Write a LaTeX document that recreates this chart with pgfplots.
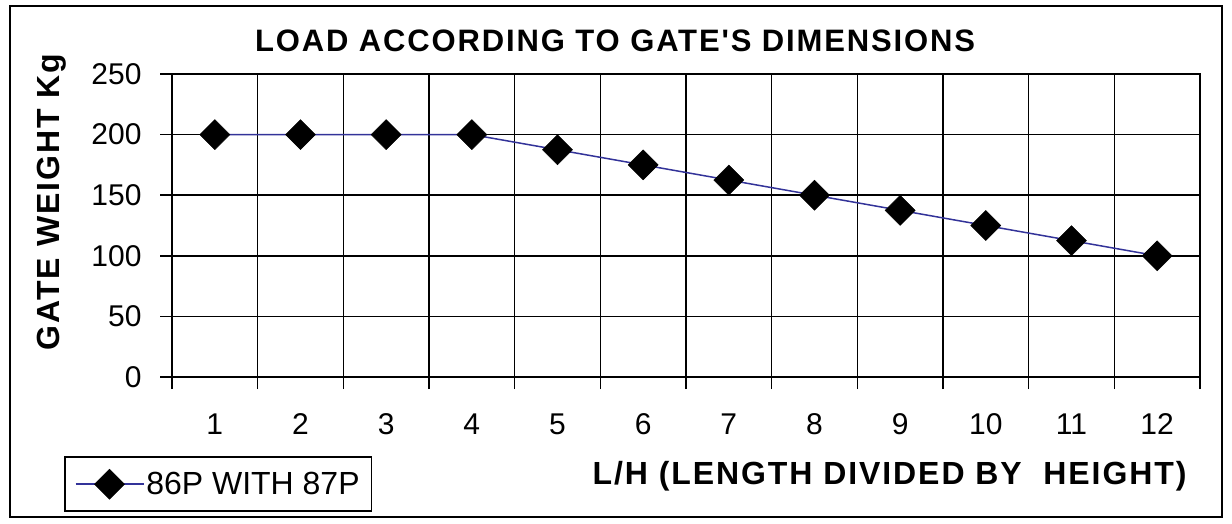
\documentclass[border=0pt]{standalone}
\usepackage{fontspec}
\setmainfont{Liberation Sans}
\newfontfamily\lsfont[LetterSpace=6]{Liberation Sans}
\usepackage{pgfplots}
\pgfplotsset{compat=1.18}
\definecolor{navyline}{HTML}{333399}
\begin{document}
\begin{tikzpicture}
\useasboundingbox (0pt,0pt) rectangle (1232pt,523pt);
\begin{axis}[
  at={(172pt,146pt)}, anchor=south west,
  scale only axis, width=1028pt, height=303pt,
  xmin=0.5, xmax=12.5, ymin=0, ymax=250,
  xtick={1,...,12},
  minor xtick={0.5,1.5,...,12.5},
  ytick={0,50,...,250},
  xminorgrids, ymajorgrids,
  grid style={black, line width=1.6pt},
  minor grid style={black, line width=1.6pt},
  axis line style={black, line width=1.6pt},
  tick align=outside, tick pos=left,
  major tick length=12pt, minor tick length=12pt,
  major x tick style={draw=none},
  tick style={black, line width=1.6pt},
  /pgf/number format/assume math mode=true,
  tick label style={font=\fontsize{30}{36}\selectfont},
  xticklabel style={yshift=-21pt},
  yticklabel style={xshift=-15pt},
  title={\lsfont\bfseries LOAD ACCORDING TO GATE'S DIMENSIONS},
  title style={at={(0.431,1.089)}, anchor=center, font=\fontsize{31}{36}\selectfont},
  xlabel={\lsfont\bfseries L/H (LENGTH DIVIDED BY \ HEIGHT)},
  xlabel style={at={(0.698,-0.3267)}, anchor=center, font=\fontsize{32}{38}\selectfont},
  ylabel={\lsfont\bfseries GATE WEIGHT Kg},
  ylabel style={at={(-0.1167,0.5776)}, anchor=center, rotate=0, font=\fontsize{32}{38}\selectfont},
  legend style={at={(-0.1051,-0.4455)}, anchor=south west, draw=black, line width=1.6pt,
    inner xsep=10pt, inner ysep=12pt, font=\fontsize{32}{38}\selectfont,
    /tikz/every even column/.append style={column sep=9pt}},
  legend image code/.code={\draw[mark repeat=2,mark phase=2,#1] plot coordinates {(0pt,0pt) (34pt,0pt) (68pt,0pt)};},
]
\addplot[color=navyline, line width=1.5pt, mark=square*, mark size=10.6pt,
  mark options={fill=black, draw=black, rotate=45, line width=0.5pt}]
  coordinates {(1,200) (2,200) (3,200) (4,200) (5,187.5) (6,175) (7,162.5) (8,150) (9,137.5) (10,125) (11,112.5) (12,100)};
\addlegendentry{86P WITH 87P}
\end{axis}
\draw[black, line width=1.6pt] (10pt,6pt) rectangle (1222pt,517pt);
\end{tikzpicture}
\end{document}
